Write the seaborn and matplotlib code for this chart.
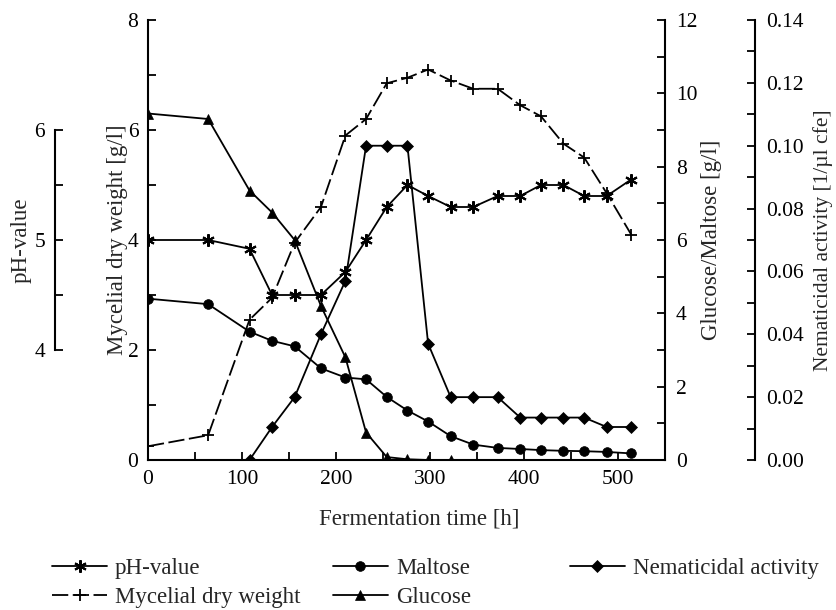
import pandas as pd
import matplotlib.pyplot as plt
import seaborn as sns
from matplotlib.ticker import MultipleLocator, FormatStrFormatter

# values
time_h = [0, 64, 108, 132, 156, 184, 210, 232, 254, 276,
          298, 322, 346, 372, 396, 418, 442, 464, 488, 514]
ph_value = [5.0, 5.0, 4.92, 4.5, 4.5, 4.5, 4.71, 5.0, 5.3, 5.5,
            5.4, 5.3, 5.3, 5.4, 5.4, 5.5, 5.5, 5.4, 5.4, 5.55]
mycelial_dw = [0.25, 0.45, 2.55, 2.95, 3.95, 4.6, 5.9, 6.2, 6.85, 6.95,
               7.1, 6.9, 6.75, 6.75, 6.45, 6.25, 5.75, 5.5, 4.85, 4.1]
maltose = [4.4, 4.25, 3.5, 3.25, 3.1, 2.5, 2.25, 2.2, 1.72, 1.35,
           1.05, 0.65, 0.42, 0.33, 0.3, 0.27, 0.25, 0.24, 0.22, 0.18]
# glucose measured up to 322 h only
glucose = [9.45, 9.3, 7.35, 6.75, 6.0, 4.2, 2.8, 0.75, 0.08, 0.02, 0.0, 0.0]
# nematicidal activity measured from 108 h on
nematicidal = [0.0, 0.0105, 0.02, 0.04, 0.057, 0.10, 0.10, 0.10, 0.037, 0.02,
               0.02, 0.02, 0.0135, 0.0135, 0.0135, 0.0135, 0.0105, 0.0105]

df = pd.DataFrame({'time': time_h, 'ph': ph_value, 'dw': mycelial_dw, 'maltose': maltose})
df_glc = pd.DataFrame({'time': time_h[:len(glucose)], 'glucose': glucose})
df_nem = pd.DataFrame({'time': time_h[-len(nematicidal):], 'nem': nematicidal})

sns.set_theme(style='ticks')
plt.rcParams['font.family'] = ['Liberation Serif', 'DejaVu Serif']

W, H = 837, 610
fig = plt.figure(figsize=(W / 100, H / 100), dpi=100)
ax = fig.add_axes([148 / W, 150 / H, 517 / W, 440 / H])
ax_ph = ax.twinx()
ax_gm = ax.twinx()
ax_nem = ax.twinx()

line_kw = dict(color='black', linewidth=1.3, legend=False,
               markeredgecolor='black', markerfacecolor='black')
asterisk = (6, 2, 0)

sns.lineplot(data=df, x='time', y='dw', ax=ax, marker='+', markersize=8,
             markeredgewidth=1.3, **line_kw)
ax.lines[-1].set_linestyle((0, (9, 2.5)))
h_dw = ax.lines[-1]

sns.lineplot(data=df, x='time', y='ph', ax=ax_ph, marker=asterisk, markersize=9,
             markeredgewidth=1.5, **line_kw)
h_ph = ax_ph.lines[-1]

sns.lineplot(data=df, x='time', y='maltose', ax=ax_gm, marker='o', markersize=7,
             markeredgewidth=0.5, **line_kw)
h_mal = ax_gm.lines[-1]
sns.lineplot(data=df_glc, x='time', y='glucose', ax=ax_gm, marker='^', markersize=7.5,
             markeredgewidth=0.5, **line_kw)
h_glc = ax_gm.lines[-1]

sns.lineplot(data=df_nem, x='time', y='nem', ax=ax_nem, marker='D', markersize=6,
             markeredgewidth=0.5, **line_kw)
h_nem = ax_nem.lines[-1]

tick_fs = 15.5
label_fs = 16.5
for a in (ax, ax_ph, ax_gm, ax_nem):
    a.set_xlim(0, 550)
    a.spines['top'].set_visible(False)
    for s in a.spines.values():
        s.set_linewidth(1.5)
        s.set_color('black')
    a.tick_params(which='both', direction='in', length=6, width=1.3,
                  labelsize=tick_fs, colors='black')

# main axis: mycelial dry weight
ax.set_ylim(0, 8)
ax.yaxis.set_major_locator(MultipleLocator(2))
ax.yaxis.set_minor_locator(MultipleLocator(1))
ax.xaxis.set_major_locator(MultipleLocator(100))
ax.xaxis.set_minor_locator(MultipleLocator(50))
ax.spines['right'].set_visible(False)
ax.tick_params(axis='both', which='both', pad=7)
ax.set_xlabel('Fermentation time [h]', fontsize=label_fs)
ax.set_ylabel('Mycelial dry weight [g/l]', fontsize=label_fs)
ax.xaxis.set_label_coords(0.525, -0.11)
ax.yaxis.set_label_coords(-0.039, 0.5)

# pH axis on the far left, spine only from 4 to 6
ax_ph.set_ylim(3, 7)
ax_ph.spines['right'].set_visible(False)
ax_ph.spines['bottom'].set_visible(False)
ax_ph.spines['left'].set_visible(True)
ax_ph.spines['left'].set_position(('axes', -0.18))
ax_ph.spines['left'].set_bounds(4, 6)
ax_ph.yaxis.set_ticks_position('left')
ax_ph.yaxis.set_label_position('left')
ax_ph.set_yticks([4, 5, 6])
ax_ph.set_yticks([4.5, 5.5], minor=True)
ax_ph.tick_params(axis='y', which='both', pad=7)
ax_ph.set_ylabel('pH-value', fontsize=label_fs)
ax_ph.yaxis.set_label_coords(-0.226, 0.5)

# glucose / maltose axis on the right
ax_gm.set_ylim(0, 12)
ax_gm.spines['left'].set_visible(False)
ax_gm.spines['bottom'].set_visible(False)
ax_gm.yaxis.set_major_locator(MultipleLocator(2))
ax_gm.yaxis.set_minor_locator(MultipleLocator(1))
ax_gm.tick_params(axis='y', which='both', pad=8)
ax_gm.set_ylabel('Glucose/Maltose [g/l]', fontsize=label_fs)
ax_gm.yaxis.set_label_coords(1.07, 0.5)

# nematicidal activity axis, further right
ax_nem.set_ylim(0, 0.14)
ax_nem.spines['left'].set_visible(False)
ax_nem.spines['bottom'].set_visible(False)
ax_nem.spines['right'].set_position(('axes', 1.174))
ax_nem.yaxis.set_major_locator(MultipleLocator(0.02))
ax_nem.yaxis.set_minor_locator(MultipleLocator(0.01))
ax_nem.yaxis.set_major_formatter(FormatStrFormatter('%.2f'))
ax_nem.tick_params(axis='y', which='both', pad=8)
ax_nem.set_ylabel('Nematicidal activity [1/\u00b5l cfe]', fontsize=15.5)
ax_nem.yaxis.set_label_coords(1.286, 0.5)

for a in (ax_ph, ax_gm, ax_nem):
    a.set_xlabel('')
    a.tick_params(axis='x', which='both', bottom=False, labelbottom=False)

# legend in three separate columns below the plot
leg_kw = dict(loc='upper left', frameon=False, fontsize=label_fs, handlelength=2.4,
              handletextpad=0.35, labelspacing=0.33, borderpad=0, borderaxespad=0)
fig.legend([h_ph, h_dw], ['pH-value', 'Mycelial dry weight'],
           bbox_to_anchor=(52 / W, 1 - 558 / H), **leg_kw)
fig.legend([h_mal, h_glc], ['Maltose', 'Glucose'],
           bbox_to_anchor=(333 / W, 1 - 558 / H), **leg_kw)
fig.legend([h_nem], ['Nematicidal activity'],
           bbox_to_anchor=(570 / W, 1 - 558 / H), **leg_kw)

fig.savefig('out.png', dpi=100)
